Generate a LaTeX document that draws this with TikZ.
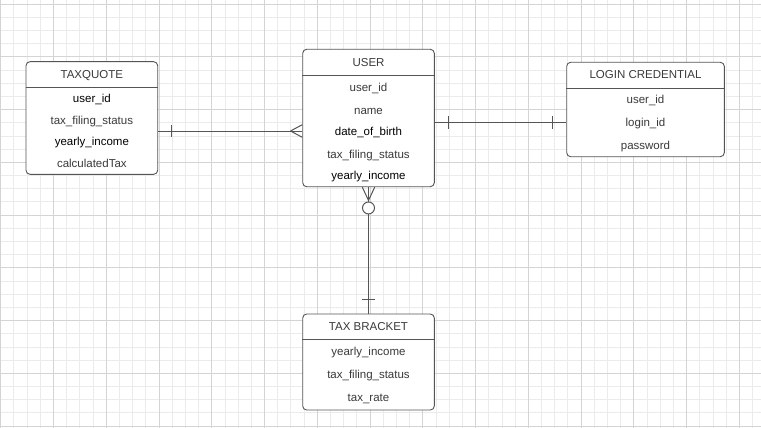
\documentclass[tikz,border=0pt]{standalone}
\usepackage{fontspec}
\setmainfont{Liberation Sans}
\usetikzlibrary{calc}
\definecolor{gridminor}{HTML}{EBEBEB}
\definecolor{gridmajor}{HTML}{D4D4D4}
\definecolor{edge}{HTML}{555555}
\definecolor{txtgray}{HTML}{3A3A3A}
\tikzset{
  entity/.style={draw=edge, line width=0.9pt, rounded corners=4pt, fill=white, inner sep=0pt},
  label/.style={font=\fontsize{11.5}{13}\selectfont, text=txtgray, inner sep=0pt,
                text height=8.2pt, text depth=0pt, anchor=center},
  attr/.style={label},
  keyattr/.style={label, text=black},
  link/.style={draw=edge, line width=1pt},
  divider/.style={draw=edge, line width=0.9pt},
}
\begin{document}
\begin{tikzpicture}[x=1pt,y=-1pt]
\useasboundingbox (0,0) rectangle (761,428);
\fill[white] (0,0) rectangle (761,428);

% background grid
\foreach \i in {0,...,57} {
  \draw[gridminor, line width=0.8pt] ({0.7+13.19*\i},0) -- ({0.7+13.19*\i},428);
}
\foreach \j in {0,...,32} {
  \draw[gridminor, line width=0.8pt] (0,{4+13.19*\j}) -- (761,{4+13.19*\j});
}
\foreach \i in {0,4,...,56} {
  \draw[gridmajor, line width=0.9pt] ({0.7+13.19*\i},0) -- ({0.7+13.19*\i},428);
}
\foreach \j in {0,4,...,32} {
  \draw[gridmajor, line width=0.9pt] (0,{4+13.19*\j}) -- (761,{4+13.19*\j});
}

% entities
\node[entity, minimum width=131.7pt, minimum height=112.6pt] (tq) at (91.85,118) {};
\node[entity, minimum width=131.6pt, minimum height=137.4pt] (user) at (368.5,118) {};
\node[entity, minimum width=157.6pt, minimum height=94.4pt] (login) at (645.5,109.5) {};
\node[entity, minimum width=131.6pt, minimum height=96pt] (tb) at (368.5,362) {};

\foreach \e in {tq,user,login,tb} {
  \draw[divider] ([yshift=-26.3pt]\e.north west) -- ([yshift=-26.3pt]\e.north east);
}

% TAXQUOTE
\node[label] (tqt) at (91.85,74.3) {TAXQUOTE};
\node[keyattr] (tq1) at (91.85,98.3) {user\_id};
\node[attr] (tq2) at (91.85,120.7) {tax\_filing\_status};
\node[keyattr] (tq3) at (91.85,141.7) {yearly\_income};
\node[attr] (tq4) at (91.85,163.3) {calculatedTax};

% USER
\node[label] (ut) at (368.5,62.7) {USER};
\node[attr] (u1) at (368.5,87.7) {user\_id};
\node[attr] (u2) at (368.5,110.5) {name};
\node[keyattr] (udob) at (368.5,131) {date\_of\_birth};
\node[attr] (u4) at (368.5,154.3) {tax\_filing\_status};
\node[keyattr] (u5) at (368.5,175.7) {yearly\_income};

% LOGIN CREDENTIAL
\node[label] (lt) at (645.5,74.3) {LOGIN CREDENTIAL};
\node[attr] (l1) at (645.5,99) {user\_id};
\node[attr] (llog) at (645.5,122.7) {login\_id};
\node[attr] (l3) at (645.5,145) {password};

% TAX BRACKET
\node[label] (tbt) at (368.5,326) {TAX BRACKET};
\node[attr] (tb1) at (368.5,351.7) {yearly\_income};
\node[attr] (tb2) at (368.5,374.3) {tax\_filing\_status};
\node[attr] (tb3) at (368.5,397.3) {tax\_rate};

% TAXQUOTE (one) -- USER (many)
\coordinate (a1) at (tq.east |- udob);
\coordinate (a2) at (user.west |- udob);
\draw[link] (a1) -- (a2);
\draw[link] ($(a1)+(13.6,-6)$) -- ($(a1)+(13.6,6)$);
\draw[link] ($(a2)+(-11.7,0)$) -- ($(a2)+(0,-6.3)$);
\draw[link] ($(a2)+(-11.7,0)$) -- ($(a2)+(0,6.3)$);

% USER (one) -- LOGIN CREDENTIAL (one)
\coordinate (b1) at (user.east |- llog);
\coordinate (b2) at (login.west |- llog);
\draw[link] (b1) -- (b2);
\draw[link] ($(b1)+(13.7,-6.3)$) -- ($(b1)+(13.7,6.3)$);
\draw[link] ($(b2)+(-14,-6.3)$) -- ($(b2)+(-14,6.3)$);

% USER (zero or many) -- TAX BRACKET (one)
\coordinate (c1) at (user.south);
\coordinate (c2) at (tb.north);
\draw[link] (c1) -- ($(c1)+(0,14.8)$);
\draw[link] ($(c1)+(-6.2,0)$) -- ($(c1)+(0,13.3)$) -- ($(c1)+(6.2,0)$);
\draw[link] ($(c1)+(0,26.8)$) -- (c2);
\draw[link, fill=white] ($(c1)+(0,20.8)$) circle[radius=6pt];
\draw[link] ($(c2)+(-6.3,-14)$) -- ($(c2)+(6.3,-14)$);
\end{tikzpicture}
\end{document}
